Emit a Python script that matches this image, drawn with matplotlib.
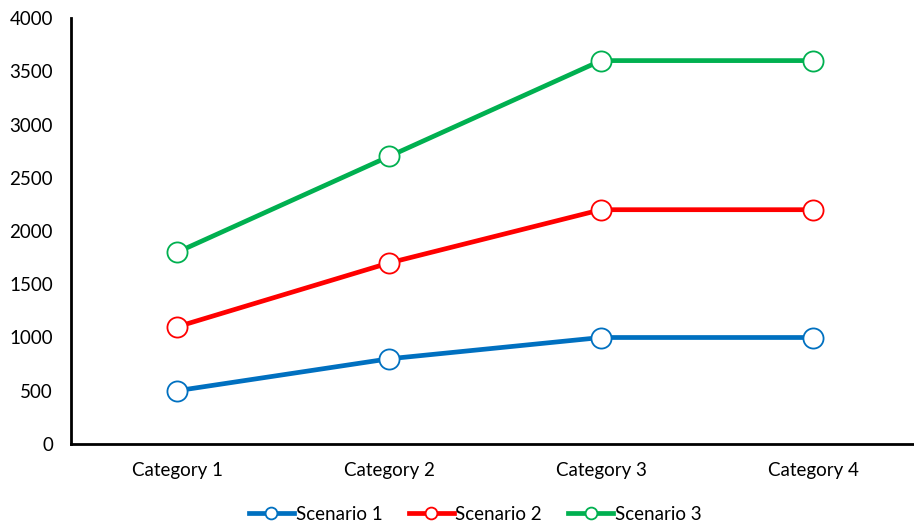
import matplotlib
matplotlib.use("Agg")
import matplotlib.pyplot as plt
from matplotlib.lines import Line2D

categories = ["Category 1", "Category 2", "Category 3", "Category 4"]
scenario_1 = [500, 800, 1000, 1000]
scenario_2 = [1100, 1700, 2200, 2200]
scenario_3 = [1800, 2700, 3600, 3600]
series_names = ["Scenario 1", "Scenario 2", "Scenario 3"]
colors = ["#0070C0", "#FF0000", "#00B050"]
y_ticks = [0, 500, 1000, 1500, 2000, 2500, 3000, 3500, 4000]

plt.rcParams["font.family"] = ["Lato", "DejaVu Sans"]

fig = plt.figure(figsize=(9.14, 5.24), dpi=100)
ax = fig.add_axes([71 / 914, 80 / 524, 848 / 914, 426 / 524])

x = list(range(len(categories)))
for vals, name, c in zip([scenario_1, scenario_2, scenario_3], series_names, colors):
    ax.plot(x, vals, color=c, lw=3.4, marker="o", markersize=14.5,
            markerfacecolor="white", markeredgecolor=c, markeredgewidth=1.3,
            label=name, solid_capstyle="butt")

ax.set_xlim(-0.5, 3.5)
ax.set_ylim(0, 4000)
ax.set_yticks(y_ticks)
ax.set_yticklabels([str(v) for v in y_ticks])
ax.set_xticks(x)
ax.set_xticklabels(categories)
ax.tick_params(axis="both", length=0, labelsize=13.5, colors="#000000")
ax.tick_params(axis="y", pad=13)
ax.tick_params(axis="x", pad=13)
for side in ("top", "right"):
    ax.spines[side].set_visible(False)
for side in ("left", "bottom"):
    ax.spines[side].set_linewidth(2.0)
    ax.spines[side].set_color("black")

handles = [Line2D([0], [0], color=c, lw=3.4, marker="o", markersize=8.5,
                  markerfacecolor="white", markeredgecolor=c, markeredgewidth=1.3)
           for c in colors]
fig.legend(handles, series_names, loc="lower center", bbox_to_anchor=(0.52, -0.03),
           ncol=3, frameon=False, fontsize=13.5, handlelength=2.4,
           handletextpad=0.1, columnspacing=1.4)

fig.savefig("out.png", dpi=100)
